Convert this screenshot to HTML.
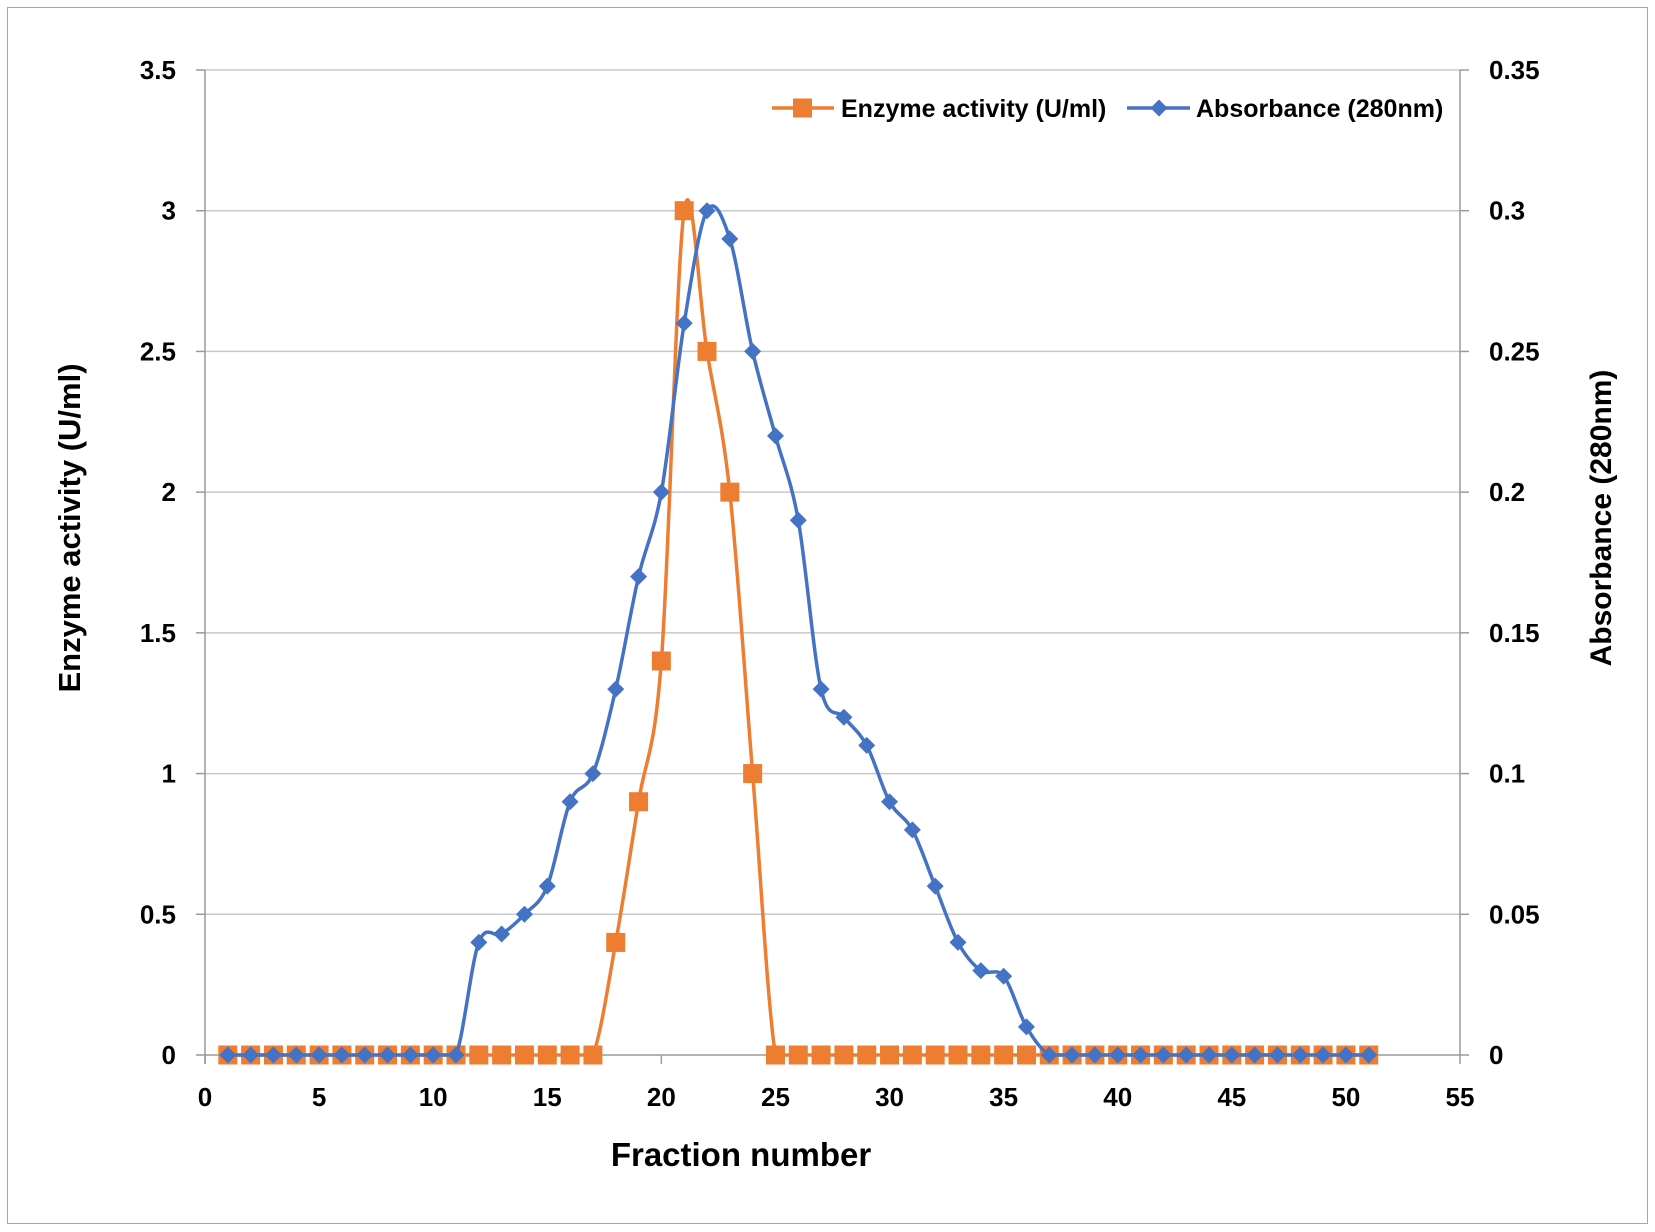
<!DOCTYPE html>
<html><head><meta charset="utf-8"><style>
html,body{margin:0;padding:0;background:#fff;}
svg{display:block;font-family:"Liberation Sans",sans-serif;font-weight:bold;}
</style></head><body>
<svg id="c" width="1655" height="1232" viewBox="0 0 1655 1232" xmlns="http://www.w3.org/2000/svg">
<rect x="7.5" y="7.5" width="1640" height="1216" fill="#fff" stroke="#a6a6a6" stroke-width="1"/>
<g id="g"></g>
</svg>
<script>
const L=205,R=1460,T=70,B=1055;
const X=v=>L+(R-L)*v/55, Y1=v=>B-(B-T)*v/3.5, Y2=v=>B-(B-T)*v/0.35;
let h='';
for(let i=0;i<=7;i++){const y=Y1(i*0.5);
 if(i>0) h+=`<line x1="${L}" x2="${R}" y1="${y}" y2="${y}" stroke="#c8c8c8" stroke-width="1.5"/>`;
 h+=`<line x1="${L-9}" x2="${L}" y1="${y}" y2="${y}" stroke="#9a9a9a" stroke-width="1.5"/>`;
 h+=`<line x1="${R}" x2="${R+9}" y1="${y}" y2="${y}" stroke="#9a9a9a" stroke-width="1.5"/>`;
 h+=`<text x="176" y="${y+9}" text-anchor="end" font-size="26">${i*0.5}</text>`;
 const r=[0,0.05,0.1,0.15,0.2,0.25,0.3,0.35][i];
 h+=`<text x="1489" y="${y+9}" font-size="26">${r}</text>`;
}
h+=`<line x1="${L}" x2="${L}" y1="${T}" y2="${B+9}" stroke="#9a9a9a" stroke-width="1.5"/>`;
h+=`<line x1="${R}" x2="${R}" y1="${T}" y2="${B}" stroke="#9a9a9a" stroke-width="1.5"/>`;
h+=`<line x1="${L}" x2="${R}" y1="${B}" y2="${B}" stroke="#9a9a9a" stroke-width="1.5"/>`;
for(let i=0;i<=11;i++){const x=X(i*5);
 h+=`<line x1="${x}" x2="${x}" y1="${B}" y2="${B+9}" stroke="#9a9a9a" stroke-width="1.5"/>`;
 h+=`<text x="${x}" y="1106" text-anchor="middle" font-size="26">${i*5}</text>`;}
h+=`<text x="741" y="1166" text-anchor="middle" font-size="33">Fraction number</text>`;
h+=`<text transform="translate(80,528) rotate(-90)" text-anchor="middle" font-size="31">Enzyme activity (U/ml)</text>`;
h+=`<text transform="translate(1611,518) rotate(-90)" text-anchor="middle" font-size="30">Absorbance (280nm)</text>`;
const en=[],ab=[];
const ev={18:0.4,19:0.9,20:1.4,21:3,22:2.5,23:2,24:1};
const av={12:0.04,13:0.043,14:0.05,15:0.06,16:0.09,17:0.1,18:0.13,19:0.17,20:0.2,21:0.26,22:0.3,23:0.29,24:0.25,25:0.22,26:0.19,27:0.13,28:0.12,29:0.11,30:0.09,31:0.08,32:0.06,33:0.04,34:0.03,35:0.028,36:0.01};
for(let i=1;i<=51;i++){en.push([X(i),Y1(ev[i]||0)]);ab.push([X(i),Y2(av[i]||0)]);}
function path(p){let d=`M${p[0][0]},${p[0][1]}`;const c=y=>Math.min(B,y);
 for(let i=0;i<p.length-1;i++){const p0=p[Math.max(0,i-1)],p1=p[i],p2=p[i+1],p3=p[Math.min(p.length-1,i+2)];
  const t=6;
  d+=`C${p1[0]+(p2[0]-p0[0])/t},${c(p1[1]+(p2[1]-p0[1])/t)} ${p2[0]-(p3[0]-p1[0])/t},${c(p2[1]-(p3[1]-p1[1])/t)} ${p2[0]},${p2[1]}`;}
 return d;}
const OR="#ED7D31",BL="#4472C4";
h+=`<path d="${path(en)}" fill="none" stroke="${OR}" stroke-width="3.5"/>`;
en.forEach(p=>h+=`<rect x="${p[0]-9.5}" y="${p[1]-9.5}" width="19" height="19" fill="${OR}"/>`);
h+=`<path d="${path(ab)}" fill="none" stroke="${BL}" stroke-width="3.5"/>`;
const dia=(x,y,s)=>`<path d="M${x},${y-s}L${x+s},${y}L${x},${y+s}L${x-s},${y}Z" fill="${BL}"/>`;
ab.forEach(p=>h+=dia(p[0],p[1],8.5));
h+=`<line x1="772" x2="834" y1="108" y2="108" stroke="${OR}" stroke-width="3.5"/><rect x="793" y="98.5" width="19" height="19" fill="${OR}"/>`;
h+=`<text x="841" y="117" font-size="25">Enzyme activity (U/ml)</text>`;
h+=`<line x1="1127" x2="1190" y1="108" y2="108" stroke="${BL}" stroke-width="3.5"/>`+dia(1159,108,8.5);
h+=`<text x="1196" y="117" font-size="25">Absorbance (280nm)</text>`;
document.getElementById('g').innerHTML=h;
</script>
</body></html>
